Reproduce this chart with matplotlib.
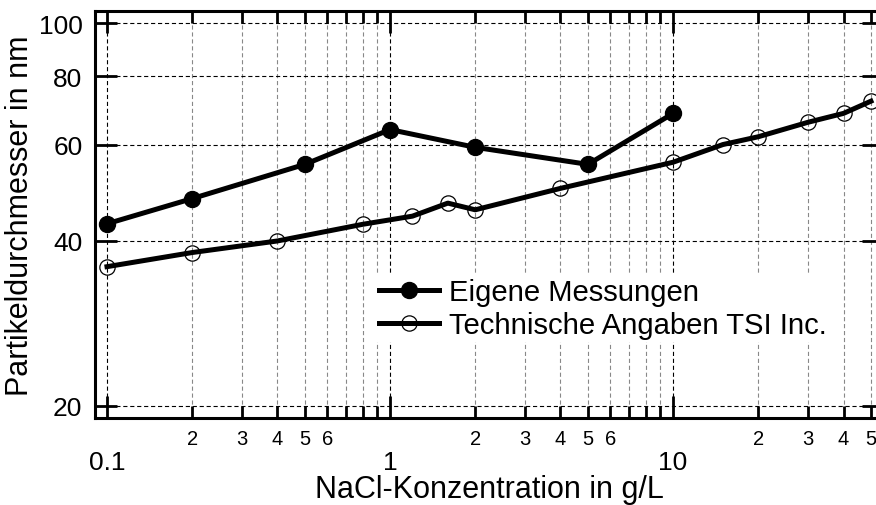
import matplotlib
matplotlib.use('Agg')
import matplotlib.pyplot as plt
from matplotlib.ticker import FixedLocator, FixedFormatter, NullLocator

plt.rcParams['font.family'] = ['Liberation Sans', 'DejaVu Sans']
plt.rcParams['lines.scale_dashes'] = False

# ---- data ----
eigene_x = [0.1, 0.2, 0.5, 1, 2, 5, 10]
eigene_y = [43.0, 47.8, 55.2, 63.9, 59.3, 55.2, 68.4]
tsi_x = [0.1, 0.2, 0.4, 0.8, 1.2, 1.6, 2, 4, 10, 15, 20, 30, 40, 50]
tsi_y = [35.9, 38.1, 40.0, 42.9, 44.4, 46.9, 45.6, 49.9, 55.7, 60.0, 62.0, 65.9, 68.4, 72.0]
series_labels = ['Eigene Messungen', 'Technische Angaben TSI Inc.']

x_major_ticks = [0.1, 1, 10]
x_major_labels = ['0.1', '1', '10']
x_decades = [0.1, 1, 10]
x_minor_mantissas = [2, 3, 4, 5, 6, 7, 8, 9]
x_minor_label_mantissas = [2, 3, 4, 5, 6]
y_ticks = [20, 40, 60, 80, 100]
y_tick_labels = ['20', '40', '60', '80', '100']
x_label = 'NaCl-Konzentration in g/L'
y_label = 'Partikeldurchmesser in nm'

# ---- figure ----
W, H = 876, 506
fig = plt.figure(figsize=(W / 100, H / 100), dpi=100)
ax = fig.add_axes([95 / W, 1 - 419 / H, 789 / W, 407 / H])
ax.set_xscale('log')
ax.set_yscale('log')
ax.set_xlim(0.0907, 55.6)
ax.set_ylim(19.0, 105.2)

# ticks
xmax = ax.get_xlim()[1]
minor_pos, minor_lab = [], []
for d in x_decades:
    for m in x_minor_mantissas:
        v = m * d
        if v <= xmax:
            minor_pos.append(v)
            minor_lab.append(str(m) if m in x_minor_label_mantissas else '')
ax.xaxis.set_major_locator(FixedLocator(x_major_ticks))
ax.xaxis.set_major_formatter(FixedFormatter(x_major_labels))
ax.xaxis.set_minor_locator(FixedLocator(minor_pos))
ax.xaxis.set_minor_formatter(FixedFormatter(minor_lab))
ax.yaxis.set_major_locator(FixedLocator(y_ticks))
ax.yaxis.set_major_formatter(FixedFormatter(y_tick_labels))
ax.yaxis.set_minor_locator(NullLocator())

ax.tick_params(which='both', direction='in', top=True, right=True, width=2, color='black')
ax.tick_params(which='major', length=16)
ax.tick_params(which='minor', length=8.5)
ax.tick_params(axis='x', which='major', pad=23, labelsize=19)
ax.tick_params(axis='x', which='minor', pad=8, labelsize=14.5)
ax.tick_params(axis='y', which='major', pad=9, labelsize=19)

for s in ax.spines.values():
    s.set_linewidth(2.2)

# grid
ax.set_axisbelow(True)
ax.grid(True, axis='x', which='major', color='black', linestyle=(0, (3, 2)), linewidth=0.8)
ax.grid(True, axis='x', which='minor', color='#888888', linestyle=(0, (3, 2)), linewidth=0.8)
ax.grid(True, axis='y', which='major', color='black', linestyle=(0, (3, 2)), linewidth=0.8)

# data
ax.plot(eigene_x, eigene_y, color='black', linewidth=3.6, marker='o', markersize=11.5,
        markerfacecolor='black', markeredgecolor='black', label=series_labels[0], zorder=3)
ax.plot(tsi_x, tsi_y, color='black', linewidth=3.6, marker='o', markersize=11,
        markerfacecolor='none', markeredgecolor='black', markeredgewidth=0.9,
        label=series_labels[1], zorder=3)

leg = ax.legend(loc='upper left', bbox_to_anchor=(376 / W, 1 - 276 / H),
                bbox_transform=fig.transFigure, fontsize=21.1, frameon=True,
                fancybox=False, framealpha=1, edgecolor='none', facecolor='white',
                handlelength=2.05, handletextpad=0.35, labelspacing=0.17, borderpad=0.1,
                borderaxespad=0)
leg.set_zorder(5)

ax.set_xlabel(x_label, fontsize=22)
ax.set_ylabel(y_label, fontsize=22)
ax.xaxis.set_label_coords(0.5, (419 - 490) / 407)
ax.xaxis.label.set_va('center')
ax.yaxis.set_label_coords((20 - 95) / 789, 0.5)
ax.yaxis.label.set_va('center')

fig.savefig('out.png', dpi=100)
